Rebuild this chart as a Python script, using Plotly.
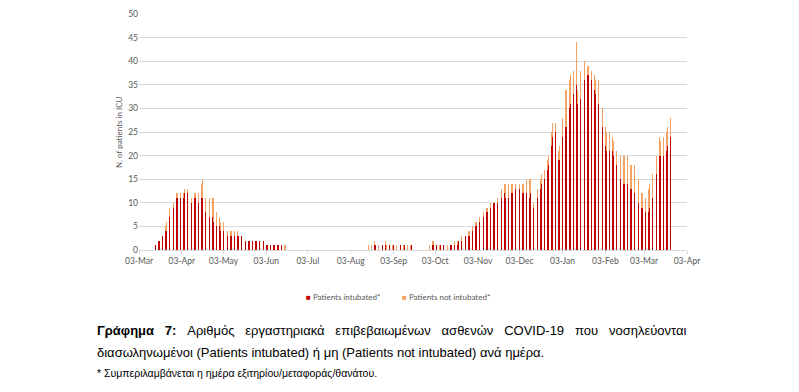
import pandas as pd
import plotly.graph_objects as go

# ---------------- data (daily, starting 2020-03-03) ----------------
start_date = "2020-03-03"

intubated = (
    [0, 0, 0, 0, 0, 0, 0, 0, 0, 0,
     0, 0, 1, 1, 2, 2, 2, 3, 3, 4,
     4, 5, 7, 8, 9, 9, 10, 11, 11, 11,
     11, 12, 11, 12, 12, 12, 12, 12, 10, 11,
     11, 11, 10, 10, 10, 11, 11, 9, 8, 8,
     8, 7, 7, 7, 6, 6, 5, 5, 5, 4,
     4, 4, 4, 4, 3, 3, 3, 3, 3, 3,
     3, 3, 3, 3, 3, 2, 2, 2, 2, 2,
     2, 2, 2, 2, 2, 2, 2, 2, 2, 2,
     2, 1, 1, 1, 1, 1, 1, 1, 1, 1,
     1, 1, 1, 1, 0, 0, 0, 0, 0, 0]
    + [0] * 56
    + [0, 1, 0, 0, 1, 1, 0, 0, 1, 0,
       1, 0, 1, 0, 0, 1, 0, 0, 1, 0,
       0, 1, 0, 1, 0, 0, 1, 0, 0, 1,
       0, 1, 0, 0]
    + [0] * 10
    + [0, 1, 1, 1, 2, 1, 1, 0, 1, 1,
       1, 1, 1, 0, 0, 1, 1, 1, 1, 1,
       1, 2, 2, 2, 2, 2, 3, 3, 3, 3,
       4, 4, 4, 5, 5, 5, 6, 6, 7, 7,
       7, 8, 8, 8, 9, 9, 10, 10, 10, 10,
       11, 11, 11, 12, 12, 11, 11, 11, 11, 12,
       12, 12, 13, 13, 13, 13, 12, 12, 12, 12,
       12, 12, 11, 12, 10, 9, 10, 11, 11, 12,
       13, 14, 14, 15, 16, 17, 18, 20, 22, 24,
       26, 25, 20, 19, 19, 20, 24, 26, 26, 26,
       28, 30, 31, 32, 33, 34, 35, 31, 30, 32,
       34, 35, 36, 36, 37, 37, 37, 36, 35, 34,
       33, 32, 31, 30, 28, 26, 24, 22, 21, 21,
       21, 21, 21, 20, 19, 18, 17, 16, 15, 15,
       14, 14, 14, 14, 14, 13, 13, 13, 12, 12,
       11, 10, 9, 9, 9, 8, 8, 8, 8, 9,
       10, 11, 13, 14, 16, 18, 20, 20, 20, 20,
       20, 21, 22, 23, 24, 24, 23]
)

not_intubated = (
    [0, 0, 0, 0, 0, 0, 0, 0, 0, 0,
     0, 0, 0, 0, 0, 0, 0, 0, 1, 1,
     2, 2, 2, 1, 1, 1, 1, 1, 1, 1,
     1, 1, 1, 1, 1, 1, 2, 1, 1, 1,
     1, 1, 1, 2, 2, 3, 4, 3, 3, 4,
     4, 4, 4, 4, 5, 3, 3, 2, 2, 2,
     2, 2, 2, 1, 1, 1, 1, 1, 1, 1,
     1, 1, 0, 0, 0, 0, 0, 0, 0, 0,
     0, 0, 0, 0, 0, 0, 0, 0, 0, 0,
     0, 0, 0, 0, 0, 0, 0, 0, 0, 0,
     0, 0, 0, 0, 1, 1, 1, 0, 0, 0]
    + [0] * 56
    + [1, 0, 1, 1, 1, 0, 1, 1, 0, 1,
       0, 1, 1, 1, 1, 0, 1, 1, 0, 1,
       1, 0, 1, 0, 1, 1, 0, 1, 1, 0,
       1, 0, 1, 0]
    + [0] * 10
    + [1, 1, 1, 1, 0, 0, 0, 1, 0, 0,
       0, 0, 0, 1, 1, 0, 0, 0, 1, 1,
       1, 0, 0, 1, 1, 1, 0, 1, 1, 1,
       1, 1, 1, 1, 1, 1, 1, 1, 1, 1,
       1, 1, 1, 1, 1, 1, 0, 0, 1, 1,
       1, 1, 2, 2, 2, 3, 3, 3, 3, 2,
       2, 2, 1, 1, 1, 1, 1, 2, 2, 3,
       3, 3, 4, 3, 2, 1, 2, 2, 2, 2,
       2, 2, 2, 2, 2, 2, 2, 3, 3, 3,
       3, 2, 2, 2, 3, 3, 4, 6, 8, 8,
       7, 6, 6, 5, 5, 4, 9, 3, 5, 6,
       5, 5, 4, 3, 2, 2, 2, 2, 3, 3,
       3, 4, 5, 5, 6, 4, 4, 4, 4, 4,
       4, 4, 3, 3, 3, 3, 3, 4, 5, 5,
       6, 6, 6, 6, 5, 5, 5, 5, 6, 6,
       6, 5, 4, 3, 3, 3, 3, 4, 5, 5,
       4, 5, 4, 4, 4, 4, 4, 3, 3, 4,
       4, 4, 4, 4, 4, 3, 2]
)

assert len(intubated) == len(not_intubated)
dates = pd.date_range(start_date, periods=len(intubated), freq="D")

series_names = ["Patients intubated*", "Patients not intubated*"]
y_ticks = [0, 5, 10, 15, 20, 25, 30, 35, 40, 45, 50]

c_int = "#C00000"
c_not = "#F4A060"
c_int_bar = "rgba(192,0,0,0.99)"
c_not_bar = "rgba(244,160,96,0.99)"
grey = "#595959"
grid = "#D9D9D9"

fig = go.Figure()
fig.add_bar(x=dates, y=intubated, name=series_names[0],
            marker=dict(color=c_int_bar, line=dict(width=0)), showlegend=False)
fig.add_bar(x=dates, y=not_intubated, name=series_names[1],
            marker=dict(color=c_not_bar, line=dict(width=0)), showlegend=False)

OFF = 8  # page body margin
W, H = 799 - OFF, 392 - OFF
# plot area in page coordinates: x 139..687, y 14..250
L, T = 139 - OFF, 14 - OFF
R = W - (687 - OFF)
B = H - (250 - OFF)
pw, ph = W - L - R, H - T - B

def px(xp):
    return (xp - OFF - L) / pw

def py(yp):
    return (H - B - (yp - OFF)) / ph

fig.update_layout(
    width=W, height=H,
    margin=dict(l=L, r=R, t=T, b=B, autoexpand=False),
    barmode="stack", bargap=0.6,
    paper_bgcolor="white", plot_bgcolor="white",
    font=dict(family="Lato, sans-serif", color=grey, size=9),
)
fig.update_xaxes(
    range=["2020-03-03", "2021-04-03"],
    tick0="2020-03-03", dtick="M1", tickformat="%d-%b",
    showgrid=False, showline=True, linecolor=grid, linewidth=1,
    ticks="outside", ticklen=3, tickcolor=grid,
    tickfont=dict(size=8.5, color=grey, family="Lato, sans-serif"),
    zeroline=False, automargin=False,
)
fig.update_yaxes(
    range=[0, 50], tickvals=y_ticks,
    showgrid=True, gridcolor=grid, gridwidth=1,
    zeroline=False, showline=False, ticks="",
    tickfont=dict(size=8.5, color=grey, family="Lato, sans-serif"),
    automargin=False,
)

# y-axis title
fig.add_annotation(xref="paper", yref="paper", x=px(119), y=py(132),
                   xanchor="center", yanchor="middle", showarrow=False, textangle=-90,
                   text="N. of patients in ICU",
                   font=dict(size=8, color=grey, family="Lato, sans-serif"))

# legend (manual)
fig.add_annotation(xref="paper", yref="paper", x=px(304), y=py(297),
                   xanchor="left", yanchor="middle", showarrow=False,
                   text=f"<span style='color:{c_int}'>■</span> {series_names[0]}",
                   font=dict(size=8, color=grey, family="Lato, sans-serif"))
fig.add_annotation(xref="paper", yref="paper", x=px(400), y=py(297),
                   xanchor="left", yanchor="middle", showarrow=False,
                   text=f"<span style='color:{c_not}'>■</span> {series_names[1]}",
                   font=dict(size=8, color=grey, family="Lato, sans-serif"))

# caption
cap_font = "Liberation Sans Narrow, Arial Narrow, Liberation Sans, sans-serif"
sp = "\u00a0" * 3
line1_words = ["Αριθμός", "εργαστηριακά", "επιβεβαιωμένων", "ασθενών", "COVID-19", "που", "νοσηλεύονται"]
line1 = "<b>Γράφημα" + sp + "7:</b>" + sp + sp.join(line1_words)
fig.add_annotation(xref="paper", yref="paper", x=px(95), y=py(330),
                   xanchor="left", yanchor="middle", showarrow=False,
                   text=line1, font=dict(size=13, color="black", family=cap_font))
fig.add_annotation(xref="paper", yref="paper", x=px(95), y=py(352),
                   xanchor="left", yanchor="middle", showarrow=False,
                   text="διασωληνωμένοι (Patients intubated) ή μη (Patients not intubated) ανά ημέρα.",
                   font=dict(size=13, color="black", family=cap_font))
fig.add_annotation(xref="paper", yref="paper", x=px(95), y=py(373),
                   xanchor="left", yanchor="middle", showarrow=False,
                   text="* Συμπεριλαμβάνεται η ημέρα εξιτηρίου/μεταφοράς/θανάτου.",
                   font=dict(size=10.5, color="black", family=cap_font))

fig.write_html("out.html")
